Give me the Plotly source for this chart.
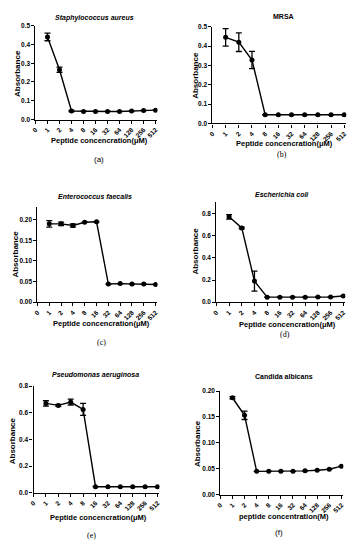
import plotly.graph_objects as go

W, H = 358, 550

conc_labels = ["0", "1", "2", "4", "8", "16", "32", "64", "128", "256", "512"]

titles = ["Staphylococcus aureus", "MRSA", "Enterococcus faecalis",
          "Escherichia coli", "Pseudomonas aeruginosa", "Candida albicans"]
panel_tags = ["(a)", "(b)", "(c)", "(d)", "(e)", "(f)"]

sa_vals = [0.440, 0.265, 0.045, 0.043, 0.043, 0.043, 0.043, 0.045, 0.048, 0.050]
sa_err = [0.020, 0.014, 0.003, 0.0, 0.0, 0.0, 0.0, 0.0, 0.0, 0.0]

mrsa_vals = [0.445, 0.420, 0.328, 0.045, 0.045, 0.045, 0.045, 0.045, 0.045, 0.045]
mrsa_err = [0.045, 0.048, 0.045, 0.0, 0.0, 0.0, 0.0, 0.0, 0.0, 0.0]

ef_vals = [0.190, 0.190, 0.186, 0.194, 0.195, 0.044, 0.045, 0.044, 0.044, 0.043]
ef_err = [0.008, 0.004, 0.004, 0.0, 0.0, 0.0, 0.0, 0.0, 0.0, 0.0]

ec_vals = [0.770, 0.670, 0.190, 0.045, 0.045, 0.045, 0.045, 0.046, 0.047, 0.055]
ec_err = [0.020, 0.008, 0.090, 0.0, 0.0, 0.0, 0.0, 0.0, 0.0, 0.0]

pa_vals = [0.670, 0.655, 0.680, 0.625, 0.045, 0.045, 0.045, 0.045, 0.045, 0.045]
pa_err = [0.020, 0.008, 0.022, 0.045, 0.0, 0.0, 0.0, 0.0, 0.0, 0.0]

ca_vals = [0.187, 0.153, 0.045, 0.045, 0.045, 0.045, 0.046, 0.047, 0.049, 0.055]
ca_err = [0.002, 0.008, 0.0, 0.0, 0.0, 0.0, 0.0, 0.0, 0.0, 0.0]

series = [(sa_vals, sa_err), (mrsa_vals, mrsa_err), (ef_vals, ef_err),
          (ec_vals, ec_err), (pa_vals, pa_err), (ca_vals, ca_err)]

y_ranges = [0.5, 0.5, 0.23, 0.9, 0.8, 0.2]
y_dticks = [0.1, 0.1, 0.05, 0.2, 0.2, 0.05]
y_formats = [".1f", ".1f", ".2f", ".1f", ".1f", ".2f"]

x_titles = ["Peptide concencration(μM)"] * 5 + ["peptide concentration(M)"]

# layout (pixel boxes): x0, x1, ytop, ybottom
boxes = [(31, 155, 22, 117), (211, 347, 23, 121), (33, 155, 206, 302),
         (215, 346, 201, 302), (29, 157, 387, 495), (219, 344, 392, 497)]
title_pos = [(91, 14), (283, 13), (92, 195), (282, 193), (92, 376), (284, 377)]
ytitle_pos = [(12, 70), (193, 72), (11, 253), (194, 250), (8, 442), (196, 445)]
xtitle_pos = [(96, 138), (284, 141), (98, 324), (287, 325), (95, 520), (284, 519)]
tag_pos = [(96, 157), (282, 152), (98, 343), (285, 335), (88, 538), (279, 535)]
title_italic = [True, False, True, True, True, False]
tag_fonts = ["Liberation Sans", "Liberation Serif", "Liberation Serif",
             "Liberation Serif", "Liberation Serif", "Liberation Sans"]

fig = go.Figure()
annotations = []


def px(x):
    return x / W


def py(y):
    return 1 - y / H


for i in range(6):
    vals, err = series[i]
    n = i + 1
    xa = "x" if n == 1 else f"x{n}"
    ya = "y" if n == 1 else f"y{n}"
    fig.add_trace(go.Scatter(
        x=list(range(1, 11)), y=vals,
        mode="lines+markers",
        line=dict(color="black", width=1.4),
        marker=dict(color="black", size=5, symbol="circle"),
        error_y=dict(type="data", array=err, visible=True, color="black",
                     thickness=1.3, width=3),
        xaxis=xa, yaxis=ya, showlegend=False,
    ))
    x0, x1, yt, yb = boxes[i]
    axis_common = dict(showline=True, linecolor="black", linewidth=1.2,
                       ticks="outside", ticklen=3, tickwidth=1, tickcolor="black",
                       showgrid=False, zeroline=False)
    fig.layout[f"xaxis{'' if n == 1 else n}"] = dict(
        domain=[px(x0), px(x1)], anchor=ya, range=[0, 10.15],
        tickmode="array", tickvals=list(range(11)), ticktext=conc_labels,
        tickangle=-45,
        tickfont=dict(family="Liberation Sans", size=6.5, color="black", weight="bold"),
        **axis_common)
    fig.layout[f"yaxis{'' if n == 1 else n}"] = dict(
        domain=[py(yb), py(yt)], anchor=xa, range=[0, y_ranges[i]],
        tick0=0, dtick=y_dticks[i], tickformat=y_formats[i],
        tickfont=dict(family="Liberation Sans", size=6.5, color="black", weight="bold"),
        **axis_common)

    t = f"<i><b>{titles[i]}</b></i>" if title_italic[i] else f"<b>{titles[i]}</b>"
    annotations.append(dict(text=t, x=px(title_pos[i][0]), y=py(title_pos[i][1]),
                            xref="paper", yref="paper", showarrow=False,
                            xanchor="center", yanchor="middle",
                            font=dict(family="Liberation Sans", size=7, color="black")))
    annotations.append(dict(text="<b>Absorbance</b>", x=px(ytitle_pos[i][0]), y=py(ytitle_pos[i][1]),
                            xref="paper", yref="paper", showarrow=False, textangle=-90,
                            xanchor="center", yanchor="middle",
                            font=dict(family="Liberation Sans", size=8, color="black")))
    annotations.append(dict(text=f"<b>{x_titles[i]}</b>", x=px(xtitle_pos[i][0]), y=py(xtitle_pos[i][1]),
                            xref="paper", yref="paper", showarrow=False,
                            xanchor="center", yanchor="middle",
                            font=dict(family="Liberation Sans", size=7.5, color="black")))
    annotations.append(dict(text=panel_tags[i], x=px(tag_pos[i][0]), y=py(tag_pos[i][1]),
                            xref="paper", yref="paper", showarrow=False,
                            xanchor="center", yanchor="middle",
                            font=dict(family=tag_fonts[i], size=8, color="black")))

fig.update_layout(width=W, height=H, margin=dict(l=0, r=0, t=0, b=0),
                  paper_bgcolor="white", plot_bgcolor="white",
                  annotations=annotations)

fig.write_html("out.html", config={"displayModeBar": False},
               post_script="document.body.style.margin='0';")
